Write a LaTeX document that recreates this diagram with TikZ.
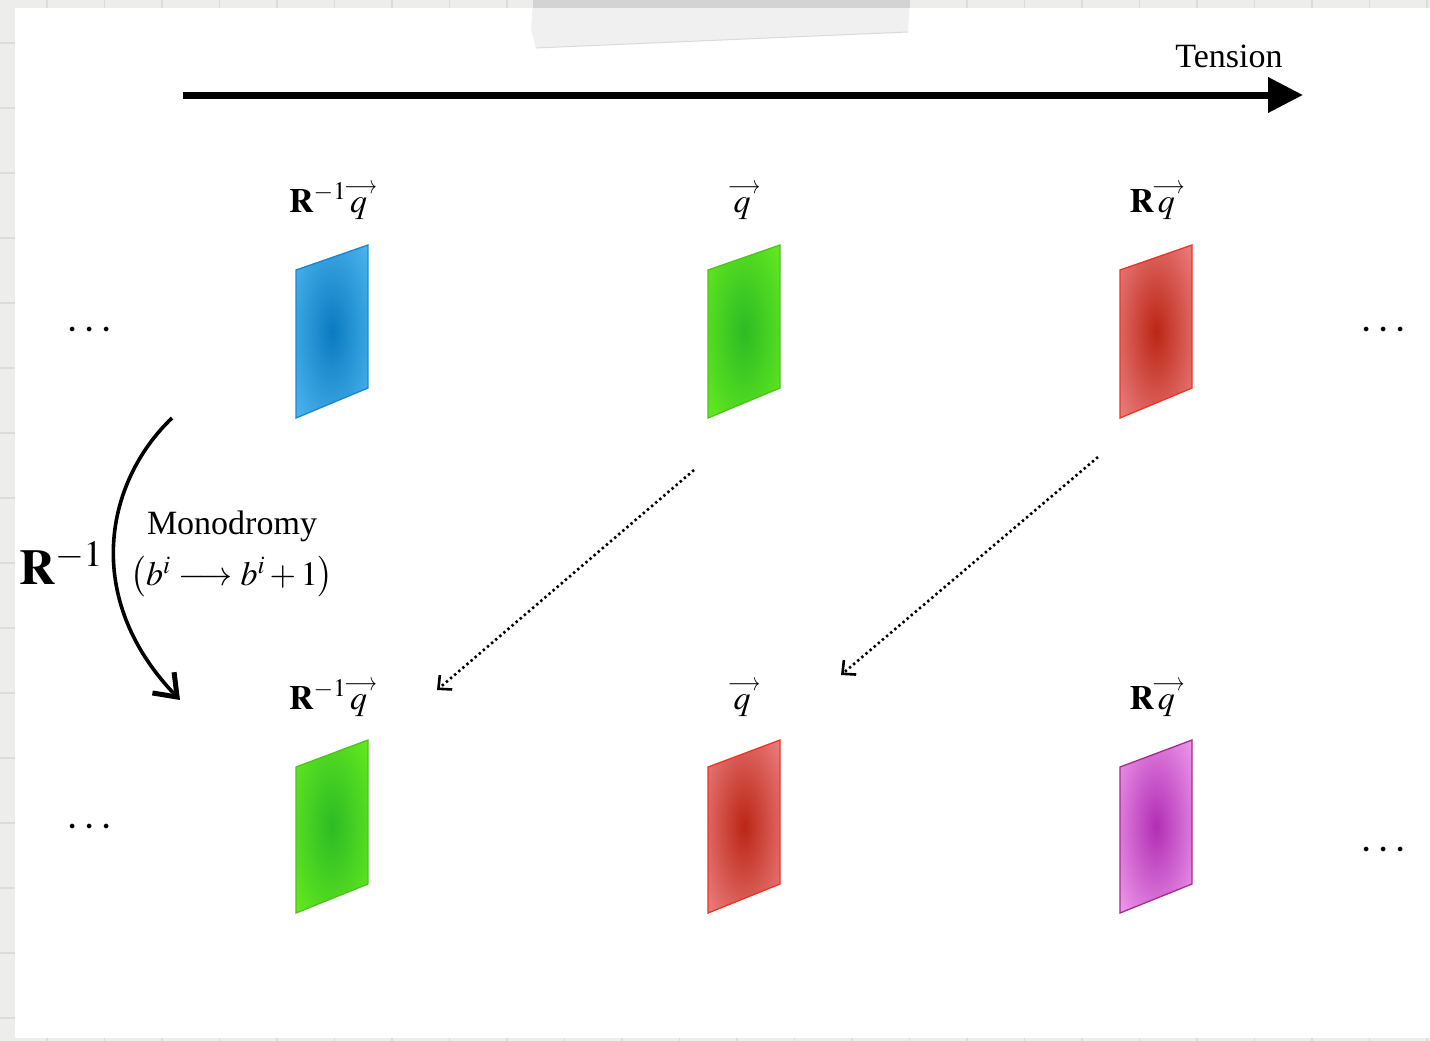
\documentclass[tikz,border=0pt]{standalone}
\usepackage{mathptmx}
\usepackage{amsmath}
\usepackage{graphicx}
\usepackage{fontspec}
\setmainfont{Liberation Serif}
\usetikzlibrary{arrows.meta}
\definecolor{bgpaper}{HTML}{EDEDEB}
\definecolor{gridc}{HTML}{DCDCDA}
\definecolor{tapec}{HTML}{F0F0F0}
\definecolor{tapetop}{HTML}{D3D3D3}
\definecolor{tapeedge}{HTML}{DADADA}
\definecolor{bluein}{HTML}{0A7BC0}\definecolor{blueout}{HTML}{56BDF5}\definecolor{blueb}{HTML}{1A86D0}
\definecolor{greenin}{HTML}{2DBB25}\definecolor{greenout}{HTML}{6CF01E}\definecolor{greenb}{HTML}{4CC41A}
\definecolor{redin}{HTML}{BB2614}\definecolor{redout}{HTML}{F28A8E}\definecolor{redb}{HTML}{EE3322}
\definecolor{magin}{HTML}{B22EB4}\definecolor{magout}{HTML}{F5A8F3}\definecolor{magb}{HTML}{A82A8A}
\makeatletter
\pgfdeclareradialshading[tikz@radial@inner,tikz@radial@outer]{plateshade}{\pgfpoint{0bp}{0bp}}{color(0bp)=(tikz@radial@inner); color(40bp)=(tikz@radial@outer); color(50bp)=(tikz@radial@outer)}
\makeatother
\newcommand{\qv}{\mkern2mu\overset{\makebox[0pt]{\kern0.12em\raisebox{-0.3ex}{\scalebox{0.8}[1]{$\scriptstyle\longrightarrow$}}}}{q}\mkern3mu}
\tikzset{
  lbl/.style={font=\fontsize{34}{40}\selectfont, inner sep=0pt},
  dotsty/.style={font=\fontsize{44}{50}\selectfont, inner sep=0pt, anchor=base},
  dotarrow/.style={line width=2.6pt, dash pattern=on 2.4pt off 3pt, -{Straight Barb[length=10pt,width=19pt,line width=2.6pt]}},
  plate/.style args={#1/#2/#3}{inner color=#1, outer color=#2, shading=plateshade, draw=#3, line width=1.3pt},
}
\begin{document}
\begin{tikzpicture}[x=1pt,y=-1pt]
\useasboundingbox (0,0) rectangle (1430,1041);
% notebook background
\fill[bgpaper] (0,0) rectangle (1430,1041);
\foreach \gx in {47,104.5,162,219.5,277,334.5,392,449.5,507,564.5,622,679.5,737,794.5,852,909.5,967,1024.5,1082,1139.5,1197,1254.5,1312,1369.5,1427}
  \draw[gridc, line width=1.5pt] (\gx,0) -- (\gx,1041);
\foreach \gy in {43,108,173,238,303,368,433,498,563,628,693,758,823,888,953,1018}
  \draw[gridc, line width=1.5pt] (0,\gy) -- (1430,\gy);
% paper
\fill[white] (15,8) rectangle (1430,1038);
% tape
\fill[tapec] (533,0) -- (910,0) -- (908,32) -- (536,48) -- (531,30) -- cycle;
\draw[tapeedge, line width=1pt] (908,32) -- (536,48);
\fill[tapetop] (533,0) -- (910,0) -- (910,8) -- (533,8) -- cycle;

% tension arrow
\coordinate (tstart) at (183,95);
\coordinate (tend) at (1303,95);
\draw[line width=7pt, -{Triangle[length=35pt,width=34pt]}] (tstart) -- (tend);
\node[lbl] (tension) at (1229,56) {Tension};

% top row labels
\node[lbl] (lt1) at (331,200) {$\mathbf{R}^{-1}\qv$};
\node[lbl] (lt2) at (743,200) {$\qv$};
\node[lbl] (lt3) at (1155,200) {$\mathbf{R}\qv$};
% bottom row labels
\node[lbl] (lb1) at (331,697) {$\mathbf{R}^{-1}\qv$};
\node[lbl] (lb2) at (743,697) {$\qv$};
\node[lbl] (lb3) at (1155,697) {$\mathbf{R}\qv$};

% plates top
\shade[plate=bluein/blueout/blueb] (296,270) -- (368,245) -- (368,388) -- (296,418) -- cycle;
\shade[plate=greenin/greenout/greenb] (708,270) -- (780,245) -- (780,388) -- (708,418) -- cycle;
\shade[plate=redin/redout/redb] (1120,270) -- (1192,245) -- (1192,388) -- (1120,418) -- cycle;
% plates bottom
\shade[plate=greenin/greenout/greenb] (296,767) -- (368,740) -- (368,884) -- (296,913) -- cycle;
\shade[plate=redin/redout/redb] (708,767) -- (780,740) -- (780,884) -- (708,913) -- cycle;
\shade[plate=magin/magout/magb] (1120,767) -- (1192,740) -- (1192,884) -- (1120,913) -- cycle;

% dots
\node[dotsty] (d1) at (92,340) {$\cdots$};
\node[dotsty] (d2) at (1386,340) {$\cdots$};
\node[dotsty] (d3) at (92,837) {$\cdots$};
\node[dotsty] (d4) at (1386,860) {$\cdots$};

% monodromy arrow
\coordinate (ms) at (172,418);
\coordinate (me) at (180,700);
\draw[line width=3.6pt, -{Straight Barb[length=20pt,width=30pt,line width=5pt]}] (ms) .. controls (105,482) and (82,598) .. (me);
\node[lbl] (mono) at (232,526) {Monodromy};
\node[lbl] (monof) at (232,577) {$\bigl(b^i\longrightarrow b^i+1\bigr)$};
\node[inner sep=0pt, font=\fontsize{50}{58}\selectfont] (rinv) at (61,563) {$\mathbf{R}^{-1}$};

% dotted arrows
\coordinate (a1s) at (694,470);
\coordinate (a1e) at (437,690);
\coordinate (a2s) at (1098,457);
\coordinate (a2e) at (841,675);
\draw[dotarrow] (a1s) -- (a1e);
\draw[dotarrow] (a2s) -- (a2e);
\end{tikzpicture}
\end{document}
